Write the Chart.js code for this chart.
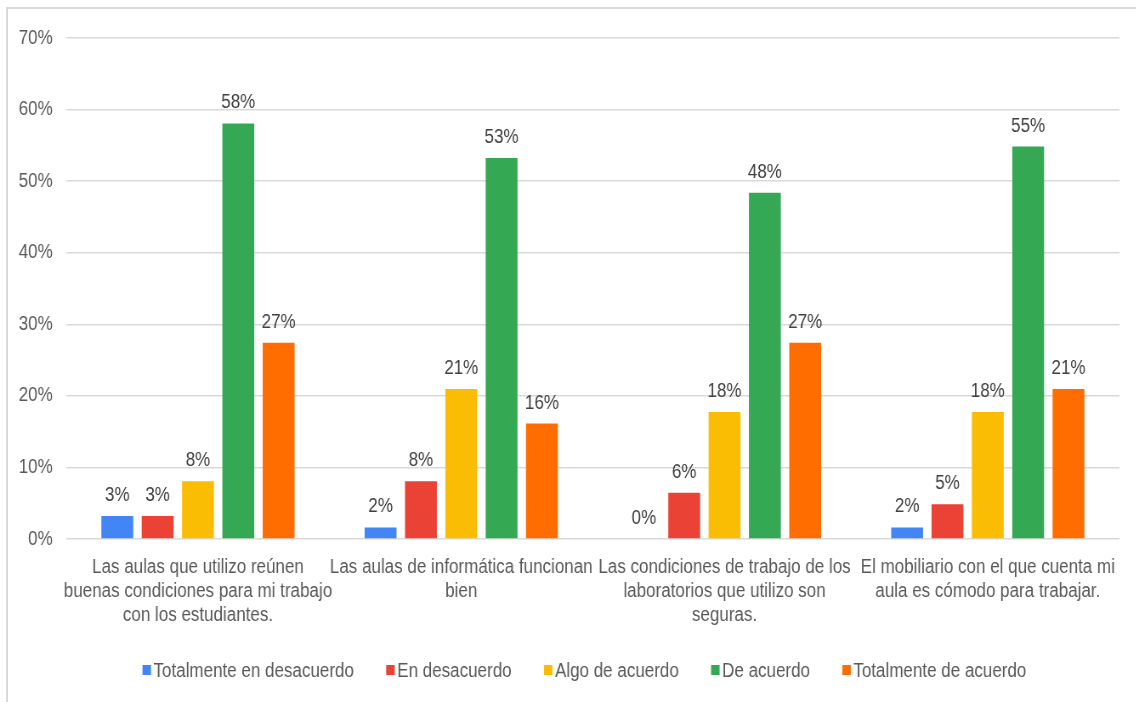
<!DOCTYPE html>
<html>
<head>
<meta charset="utf-8">
<script src="https://cdn.jsdelivr.net/npm/chart.js@4.4.0/dist/chart.umd.min.js"></script>
<style>
  html, body { margin: 0; padding: 0; background: #fff; overflow: hidden; }
  #marco {
    position: absolute; left: 6px; top: 7px; width: 1130px; height: 695px;
    border-top: 2px solid #d9d9d9; border-left: 2px solid #d9d9d9;
  }
  /* el texto del original es estrecho: se dibuja ancho y se comprime en x */
  #wrap {
    position: absolute; left: 0; top: 0; width: 1337px; height: 702px;
    transform: scaleX(0.85); transform-origin: 0 0;
  }
</style>
</head>
<body>
<div id="marco"></div>
<div id="wrap"><canvas id="encuestaChart"></canvas></div>
<script>
let categorias = [
  ["Las aulas que utilizo reúnen", "buenas condiciones para mi trabajo", "con los estudiantes."],
  ["Las aulas de informática funcionan", "bien"],
  ["Las condiciones de trabajo de los", "laboratorios que utilizo son", "seguras."],
  ["El mobiliario con el que cuenta mi", "aula es cómodo para trabajar."]
];
let serieNombres = ["Totalmente en desacuerdo", "En desacuerdo", "Algo de acuerdo", "De acuerdo", "Totalmente de acuerdo"];
let serieColores = ["#4285F4", "#EA4335", "#FBBC04", "#34A853", "#FF6D01"];

let totDesacuerdo = [3.23, 1.61, 0, 1.61];
let enDesacuerdo = [3.23, 8.06, 6.45, 4.84];
let algoAcuerdo = [8.06, 20.97, 17.74, 17.74];
let deAcuerdo = [58.06, 53.23, 48.39, 54.84];
let totAcuerdo = [27.42, 16.13, 27.42, 20.97];

let yTicksMax = 70;
let yTicksStep = 10;

let series = [totDesacuerdo, enDesacuerdo, algoAcuerdo, deAcuerdo, totAcuerdo];
let fuente = "'Liberation Sans', Arial, sans-serif";

let datasets = [];
for (let i = 0; i < series.length; i++) {
  datasets.push({
    label: serieNombres[i],
    data: series[i],
    backgroundColor: serieColores[i],
    borderWidth: 0,
    categoryPercentage: 0.766,
    barPercentage: 0.79
  });
}

// etiquetas de valor encima de cada barra
const etiquetasBarras = {
  id: "etiquetasBarras",
  afterDatasetsDraw(chart) {
    const ctx = chart.ctx;
    ctx.save();
    ctx.font = "20px " + fuente;
    ctx.fillStyle = "#404040";
    ctx.textAlign = "center";
    ctx.textBaseline = "alphabetic";
    chart.data.datasets.forEach(function (ds, di) {
      chart.getDatasetMeta(di).data.forEach(function (bar, ix) {
        ctx.fillText(Math.round(ds.data[ix]) + "%", bar.x, bar.y - 15);
      });
    });
    ctx.restore();
  }
};

// leyenda abajo, cuadrito pegado al texto
const leyendaAbajo = {
  id: "leyendaAbajo",
  afterDraw(chart) {
    const ctx = chart.ctx;
    const caja = 10, hueco = 3, sep = 38;
    ctx.save();
    ctx.font = "20px " + fuente;
    ctx.textBaseline = "middle";
    ctx.textAlign = "left";
    let anchos = serieNombres.map(function (t) { return ctx.measureText(t).width; });
    let total = 0;
    anchos.forEach(function (w) { total += caja + hueco + w; });
    total += sep * (anchos.length - 1);
    let x = (chart.chartArea.left + chart.chartArea.right) / 2 - 10 - total / 2;
    let y = 670;
    for (let i = 0; i < serieNombres.length; i++) {
      ctx.fillStyle = serieColores[i];
      ctx.fillRect(x, y - caja / 2, caja, caja);
      ctx.fillStyle = "#595959";
      ctx.fillText(serieNombres[i], x + caja + hueco, y + 1);
      x += caja + hueco + anchos[i] + sep;
    }
    ctx.restore();
  }
};

Chart.defaults.font.family = fuente;
Chart.defaults.font.size = 20;
Chart.defaults.color = "#595959";

let encChart = new Chart("encuestaChart", {
  type: "bar",
  data: {
    labels: categorias,
    datasets: datasets
  },
  options: {
    responsive: true,
    maintainAspectRatio: false,
    animation: false,
    layout: { padding: { top: 38, right: 20, left: 6, bottom: 59 } },
    plugins: {
      legend: { display: false },
      tooltip: { enabled: false }
    },
    scales: {
      x: {
        grid: { display: false, drawTicks: false },
        border: { display: false },
        ticks: {
          color: "#595959",
          font: { size: 20 },
          padding: 16,
          maxRotation: 0,
          autoSkip: false
        },
        afterFit: function (scale) {
          // las etiquetas pueden salir un poco del area, como en el original
          scale.paddingLeft = 0;
          scale.paddingRight = 0;
        }
      },
      y: {
        min: 0,
        max: yTicksMax,
        grid: { color: "#d9d9d9", lineWidth: 1.5, drawTicks: false },
        border: { display: false },
        ticks: {
          stepSize: yTicksStep,
          color: "#595959",
          font: { size: 20 },
          padding: 16,
          callback: function (v) { return v + "%"; }
        }
      }
    }
  },
  plugins: [etiquetasBarras, leyendaAbajo]
});
</script>
</body>
</html>
